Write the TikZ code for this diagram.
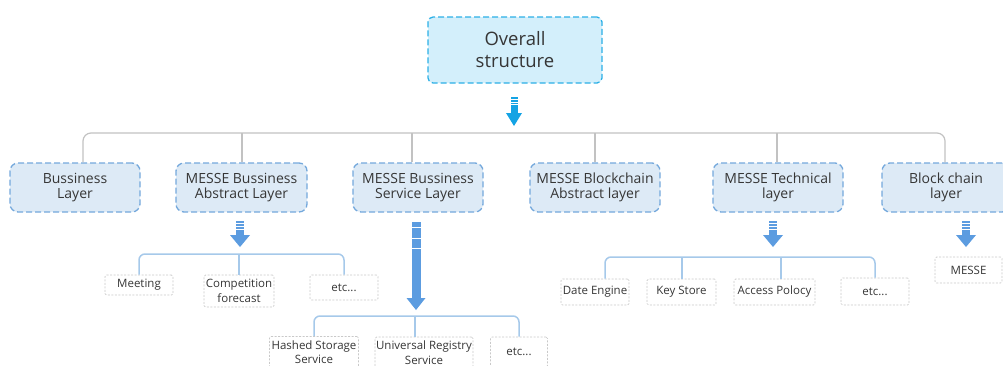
\documentclass[tikz,border=0pt]{standalone}
\usepackage{fontspec}
\setmainfont{Open Sans}
\usetikzlibrary{calc}
\definecolor{topfill}{HTML}{D3EFFB}
\definecolor{topdraw}{HTML}{2CB0E6}
\definecolor{topar}{HTML}{14A3E4}
\definecolor{lfill}{HTML}{DDEAF6}
\definecolor{ldraw}{HTML}{74A8DC}
\definecolor{subar}{HTML}{5C9CE0}
\definecolor{treeg}{HTML}{C2C2C2}
\definecolor{treeb}{HTML}{A6C9EA}
\definecolor{leafd}{HTML}{C9C9C9}
\definecolor{txt}{HTML}{363636}

% color, x, ytop, yhead, ytip, shaft half width, head half width, gap list
\newcommand\stripedarrow[8]{%
  \fill[#1] (#2-#6,#3) rectangle (#2+#6,#4+0.5);
  \fill[#1] (#2-#7,#4) -- (#2+#7,#4) -- (#2,#5) -- cycle;
  \foreach \g in {#8} {\draw[white,line width=0.9pt] (#2-#6-0.5,\g) -- (#2+#6+0.5,\g);}
}

\tikzset{
  topbox/.style={draw=topdraw, fill=topfill, dash pattern=on 6pt off 3pt, line width=1.3pt,
    rounded corners=5pt, minimum width=174pt, minimum height=66pt,
    font=\fontsize{18.5}{22}\selectfont, text=txt, align=center, inner sep=0pt},
  laybox/.style={draw=ldraw, fill=lfill, dash pattern=on 6pt off 3pt, line width=1.3pt,
    rounded corners=8pt, minimum width=130pt, minimum height=49pt,
    font=\fontsize{14}{15.5}\selectfont, text=txt, align=center, inner sep=0pt},
  leafbox/.style={draw=leafd, fill=white, dash pattern=on 2pt off 1.5pt, line width=0.7pt,
    rounded corners=1.5pt, font=\fontsize{11.5}{14.5}\selectfont, text=txt, align=center,
    inner sep=0pt, minimum height=26pt},
  graytree/.style={draw=treeg, line width=1.2pt, rounded corners=8pt},
  bluetree/.style={draw=treeb, line width=1.5pt, rounded corners=6pt},
}

\begin{document}
\begin{tikzpicture}[x=1pt,y=-1pt]
\path[use as bounding box] (0,0) rectangle (1003,365);
\clip (0,0) rectangle (1003,365);

% top
\node[topbox] (top) at (515,50) {Overall\\structure};
\stripedarrow{topar}{514}{97}{113}{126}{3.5}{8}{99.6,102.2,104.8}

% level 1
\node[laybox] (b1) at (75,187.5) {Bussiness\\Layer};
\node[laybox, minimum width=131pt] (b2) at (241.5,187.5) {MESSE Bussiness\\Abstract Layer};
\node[laybox] (b3) at (418,187.5) {MESSE Bussiness\\Service Layer};
\node[laybox] (b4) at (595,187.5) {MESSE Blockchain\\Abstract layer};
\node[laybox] (b5) at (778,187.5) {MESSE Technical\\layer};
\node[laybox, minimum width=128pt] (b6) at (946,187.5) {Block chain\\layer};

\coordinate (t1) at (83,133);
\coordinate (t2) at (242,133);
\coordinate (t3) at (412,133);
\coordinate (t4) at (595,133);
\coordinate (t5) at (777,133);
\coordinate (t6) at (945,133);
\draw[graytree] (b1.north -| t1) |- (t6) -- (b6.north -| t6);
\foreach \i in {2,3,4,5} \draw[graytree] (t\i) -- (b\i.north -| t\i);

% abstract layer branch
\stripedarrow{subar}{240}{221}{235}{247}{4}{10}{223.6,226.6,229.6}
\node[leafbox, minimum width=68pt, minimum height=20pt] (m1) at (139,285) {Meeting};
\node[leafbox, minimum width=70pt, minimum height=32pt] (m2) at (239,291) {Competition\\forecast};
\node[leafbox, minimum width=68pt, minimum height=25pt] (m3) at (344,287.5) {etc...};
\coordinate (ma) at (239,254);
\draw[bluetree] (m1.north) |- (ma) -| (m3.north);
\draw[bluetree] (ma) -- (m2.north);

% service layer branch
\stripedarrow{subar}{416}{222}{298}{310}{4.5}{9.5}{227.6,238.6,248.6}
\node[leafbox, minimum width=89pt, minimum height=31pt] (s1) at (314,352) {Hashed Storage\\Service};
\node[leafbox, minimum width=98pt, minimum height=31pt] (s2) at (424,352.5) {Universal Registry\\Service};
\node[leafbox, minimum width=57pt, minimum height=30pt] (s3) at (519,352) {etc...};
\coordinate (sa) at (415,316);
\draw[bluetree] (s1.north) |- (sa) -| (s3.north);
\draw[bluetree] (sa) -- (sa |- s2.north);

% technical layer branch
\stripedarrow{subar}{773}{221}{235}{247}{4}{10}{223.6,226.6,229.6}
\node[leafbox, minimum width=68pt] (d1) at (595,292) {Date Engine};
\node[leafbox, minimum width=69pt] (d2) at (681.5,292) {Key Store};
\node[leafbox, minimum width=81pt] (d3) at (774.5,292) {Access Polocy};
\node[leafbox, minimum width=68pt, minimum height=27pt] (d4) at (875,291.5) {etc...};
\coordinate (j1) at (605,257);
\coordinate (j2) at (682,257);
\coordinate (j3) at (781,257);
\coordinate (j4) at (875,257);
\draw[bluetree] (d1.north -| j1) |- (j4) -- (d4.north -| j4);
\draw[bluetree] (j2) -- (d2.north -| j2);
\draw[bluetree] (j3) -- (d3.north -| j3);

% block chain branch
\stripedarrow{subar}{966}{221}{235}{247}{4}{10}{223.6,226.6,229.6}
\node[leafbox, minimum width=67pt] (k1) at (968.5,270) {MESSE};
\end{tikzpicture}
\end{document}
